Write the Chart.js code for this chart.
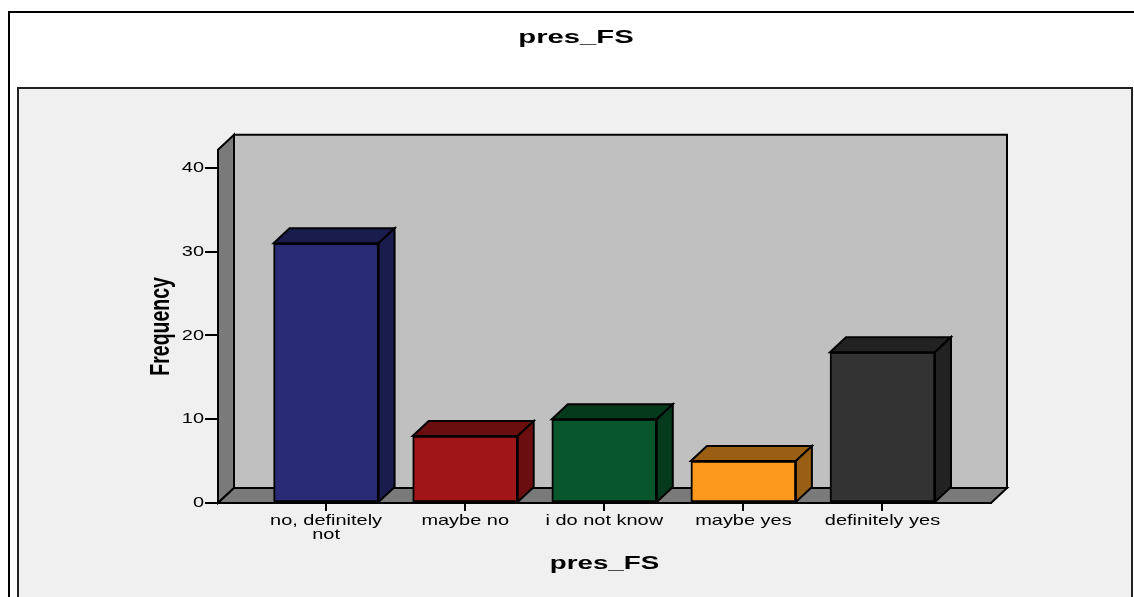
<!DOCTYPE html>
<html>
<head>
<meta charset="utf-8">
<title>pres_FS</title>
<script src="https://cdn.jsdelivr.net/npm/chart.js@4"></script>
<style>
  html, body { margin: 0; padding: 0; background: #fff; overflow: hidden; }
  canvas { display: block; }
</style>
</head>
<body>
<canvas id="myChart" width="1152" height="597"></canvas>
<script>
const categories = [['no, definitely', 'not'], 'maybe no', 'i do not know', 'maybe yes', 'definitely yes'];
const frequency = [31, 8, 10, 5, 18];
const yTicks = [0, 10, 20, 30, 40];
const frontColors = ['#282a75', '#a01518', '#08572c', '#fd9a1e', '#333333'];
const sideColors = ['#1a1c4e', '#6a0e10', '#053a1d', '#9a5f12', '#222222'];

const FONT = 'Liberation Sans, Arial, sans-serif';
const DEPTH_X = 16;
const DEPTH_Y = 15;

// the labels on this kind of chart are wide, so stretch text sideways at draw time
const stretchText = (ctx) => {
  const fillText = ctx.fillText.bind(ctx);
  ctx.fillText = (text, x, y) => {
    const horizontalTitle = ctx.font.startsWith('bold 19px') || ctx.font.startsWith('bold 18px');
    const wide = horizontalTitle ? 1.54 : ctx.font.startsWith('bold') ? 1.4 : 1.33;
    const m = ctx.getTransform();
    const at = m.transformPoint(new DOMPoint(x, y));
    ctx.save();
    ctx.setTransform(new DOMMatrix().translate(at.x, at.y).scale(wide, 1).translate(-at.x, -at.y).multiply(m));
    fillText(text, x, y);
    ctx.restore();
  };
};

const poly = (ctx, points, fill) => {
  ctx.beginPath();
  points.forEach(([x, y], i) => (i ? ctx.lineTo(x, y) : ctx.moveTo(x, y)));
  ctx.closePath();
  ctx.fillStyle = fill;
  ctx.fill();
  ctx.lineWidth = 2;
  ctx.strokeStyle = '#000';
  ctx.stroke();
};

// page frame, grey panel and the box behind the bars
const backdrop = {
  id: 'backdrop',
  afterLayout(chart) {
    // the heading is centred on the whole frame, not on the plot
    const block = chart.titleBlock;
    block.left = 0;
    block.right = chart.width;
    block.width = chart.width;
  },
  beforeDraw(chart) {
    const { ctx, chartArea: { left, right, top, bottom } } = chart;
    ctx.save();
    ctx.fillStyle = '#fff';
    ctx.fillRect(0, 0, chart.width, chart.height);
    ctx.lineWidth = 2;
    ctx.strokeStyle = '#000';
    ctx.strokeRect(9, 12, 1200, 700);
    ctx.fillStyle = '#f0f0f0';
    ctx.fillRect(18, 88, 1114, 600);
    ctx.strokeStyle = '#222';
    ctx.strokeRect(18, 88, 1114, 600);

    poly(ctx, [[left + DEPTH_X, top - DEPTH_Y], [right + DEPTH_X, top - DEPTH_Y], [right + DEPTH_X, bottom - DEPTH_Y], [left + DEPTH_X, bottom - DEPTH_Y]], '#c0c0c0');
    poly(ctx, [[left, top], [left + DEPTH_X, top - DEPTH_Y], [left + DEPTH_X, bottom - DEPTH_Y], [left, bottom]], '#7a7a7a');
    poly(ctx, [[left, bottom], [left + DEPTH_X, bottom - DEPTH_Y], [right + DEPTH_X, bottom - DEPTH_Y], [right, bottom]], '#7a7a7a');
    ctx.restore();
  }
};

// top and right faces of each bar
const barFaces = {
  id: 'barFaces',
  afterDatasetsDraw(chart) {
    const { ctx } = chart;
    ctx.save();
    chart.getDatasetMeta(0).data.forEach((bar, i) => {
      const x0 = bar.x - bar.width / 2;
      const x1 = bar.x + bar.width / 2;
      poly(ctx, [[x0, bar.y], [x0 + DEPTH_X, bar.y - DEPTH_Y], [x1 + DEPTH_X, bar.y - DEPTH_Y], [x1, bar.y]], sideColors[i]);
      poly(ctx, [[x1, bar.y], [x1 + DEPTH_X, bar.y - DEPTH_Y], [x1 + DEPTH_X, bar.base - DEPTH_Y], [x1, bar.base]], sideColors[i]);
    });
    ctx.restore();
  }
};

const renderChart = () => {
  const ctx = document.getElementById('myChart').getContext('2d');
  stretchText(ctx);

  new Chart(ctx, {
    type: 'bar',
    data: {
      datasets: [
        {
          label: 'Frequency',
          data: frequency.map((y, x) => ({ x, y })),
          backgroundColor: frontColors,
          borderColor: '#000',
          borderWidth: 2,
          borderSkipped: false,
          barThickness: 105
        }
      ]
    },
    plugins: [backdrop, barFaces],
    options: {
      responsive: false,
      animation: false,
      layout: { padding: { left: 0, top: 0, right: 161, bottom: 0 } },
      plugins: {
        legend: { display: false },
        tooltip: { enabled: false },
        title: {
          display: true,
          text: 'pres_FS',
          color: '#000',
          font: { family: FONT, size: 19, weight: 'bold' },
          padding: { top: 26, bottom: 101 }
        }
      },
      scales: {
        x: {
          type: 'linear',
          offset: false,
          min: -0.777,
          max: 4.78,
          grid: { offset: false, drawOnChartArea: false, color: '#000', lineWidth: 2, tickLength: 8 },
          border: { color: '#000', width: 2 },
          afterBuildTicks: (axis) => {
            axis.ticks = categories.map((c, i) => ({ value: i }));
          },
          afterFit: (axis) => {
            axis.height = 94;
            axis.paddingLeft = axis.paddingRight = 0;
          },
          ticks: {
            autoSkip: false,
            maxRotation: 0,
            color: '#000',
            padding: 3,
            font: { family: FONT, size: 15, lineHeight: 0.94 },
            callback: (value) => categories[value]
          },
          title: {
            display: true,
            text: 'pres_FS',
            color: '#000',
            font: { family: FONT, size: 18, weight: 'bold' },
            padding: { top: 0, bottom: 22 }
          }
        },
        y: {
          min: 0,
          max: 42.15,
          grid: { drawOnChartArea: false, color: '#000', lineWidth: 2, tickLength: 13 },
          border: { color: '#000', width: 2 },
          afterBuildTicks: (axis) => {
            axis.ticks = yTicks.map((value) => ({ value }));
          },
          afterFit: (axis) => {
            axis.width = 218;
            axis.paddingTop = axis.paddingBottom = 0;
          },
          ticks: {
            color: '#000',
            padding: 1,
            font: { family: FONT, size: 15 }
          },
          title: {
            display: true,
            text: 'Frequency',
            color: '#000',
            font: { family: FONT, size: 19.5, weight: 'bold' },
            padding: { top: 150, bottom: 0 }
          }
        }
      }
    }
  });
};

// render chart when the page loads
window.addEventListener('load', renderChart);
</script>
</body>
</html>
